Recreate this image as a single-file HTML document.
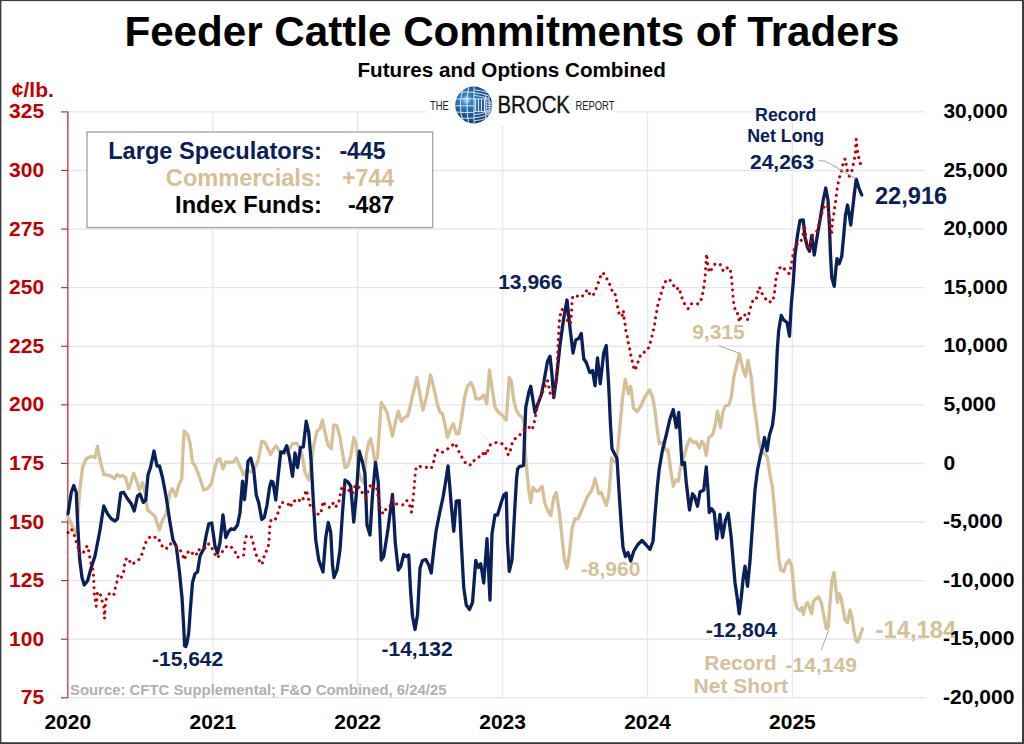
<!DOCTYPE html>
<html><head><meta charset="utf-8"><title>Feeder Cattle Commitments of Traders</title>
<style>
html,body{margin:0;padding:0;background:#fff;}
body{width:1024px;height:744px;overflow:hidden;font-family:"Liberation Sans",Arial,sans-serif;}
svg{display:block;}
text{font-family:"Liberation Sans",Arial,sans-serif;font-weight:bold;}
.lt{font-weight:normal;}
</style></head><body>
<svg width="1024" height="744" viewBox="0 0 1024 744">
<defs>
<radialGradient id="gl" cx="0.3" cy="0.36" r="0.78">
<stop offset="0" stop-color="#8cc6ea"/><stop offset="0.16" stop-color="#3a86bf"/><stop offset="0.5" stop-color="#1c5a98"/><stop offset="1" stop-color="#14366c"/>
</radialGradient>
<clipPath id="gc"><circle cx="473.7" cy="105" r="18.5"/></clipPath>
</defs>
<rect x="0" y="0" width="1024" height="744" fill="#fff"/>

<g stroke="#e7e7e7" stroke-width="1.4" fill="none">
<line x1="67.8" y1="111.9" x2="925" y2="111.9"/>
<line x1="67.8" y1="170.49" x2="925" y2="170.49"/>
<line x1="67.8" y1="229.08" x2="925" y2="229.08"/>
<line x1="67.8" y1="287.67" x2="925" y2="287.67"/>
<line x1="67.8" y1="346.26" x2="925" y2="346.26"/>
<line x1="67.8" y1="404.85" x2="925" y2="404.85"/>
<line x1="67.8" y1="463.44" x2="925" y2="463.44"/>
<line x1="67.8" y1="522.03" x2="925" y2="522.03"/>
<line x1="67.8" y1="580.62" x2="925" y2="580.62"/>
<line x1="67.8" y1="639.21" x2="925" y2="639.21"/>
<line x1="67.8" y1="697.8" x2="925" y2="697.8"/>
<line x1="212.9" y1="111.9" x2="212.9" y2="697.8"/>
<line x1="357.7" y1="111.9" x2="357.7" y2="697.8"/>
<line x1="502.6" y1="111.9" x2="502.6" y2="697.8"/>
<line x1="647.5" y1="111.9" x2="647.5" y2="697.8"/>
<line x1="792.4" y1="111.9" x2="792.4" y2="697.8"/>
</g>
<g stroke="#bb1c26" stroke-width="1.15" fill="none">
<line x1="67.9" y1="111.4" x2="67.8" y2="698"/>
<line x1="61" y1="111.9" x2="67.8" stroke-width="1.1" y2="111.9"/>
<line x1="61" y1="170.49" x2="67.8" stroke-width="1.1" y2="170.49"/>
<line x1="61" y1="229.08" x2="67.8" stroke-width="1.1" y2="229.08"/>
<line x1="61" y1="287.67" x2="67.8" stroke-width="1.1" y2="287.67"/>
<line x1="61" y1="346.26" x2="67.8" stroke-width="1.1" y2="346.26"/>
<line x1="61" y1="404.85" x2="67.8" stroke-width="1.1" y2="404.85"/>
<line x1="61" y1="463.44" x2="67.8" stroke-width="1.1" y2="463.44"/>
<line x1="61" y1="522.03" x2="67.8" stroke-width="1.1" y2="522.03"/>
<line x1="61" y1="580.62" x2="67.8" stroke-width="1.1" y2="580.62"/>
<line x1="61" y1="639.21" x2="67.8" stroke-width="1.1" y2="639.21"/>
<line x1="61" y1="697.8" x2="67.8" stroke-width="1.1" y2="697.8"/>
</g>
<g fill="#c00000" font-size="21" text-anchor="end">
<text x="44.1" y="118.4">325</text>
<text x="44.1" y="176.99">300</text>
<text x="44.1" y="235.58">275</text>
<text x="44.1" y="294.17">250</text>
<text x="44.1" y="352.76">225</text>
<text x="44.1" y="411.35">200</text>
<text x="44.1" y="469.94">175</text>
<text x="44.1" y="528.53">150</text>
<text x="44.1" y="587.12">125</text>
<text x="44.1" y="645.71">100</text>
<text x="44.1" y="704.3">75</text>
</g>
<text x="11.8" y="96.8" fill="#c00000" font-size="21">¢/lb.</text>
<g fill="#000" font-size="21" text-anchor="middle">
<text x="67.8" y="729.1">2020</text>
<text x="212.9" y="729.1">2021</text>
<text x="357.7" y="729.1">2022</text>
<text x="502.6" y="729.1">2023</text>
<text x="647.5" y="729.1">2024</text>
<text x="792.4" y="729.1">2025</text>
</g>
<text x="70" y="694.5" fill="#b0b0b0" font-size="14.9">Source: CFTC Supplemental; F&amp;O Combined, 6/24/25</text>
<rect x="427" y="84" width="189" height="42" fill="#fff"/>
<polyline points="67.5,516 70,521 73,528 75.3,533 76.8,531 78.2,512 79.5,492.5 82.5,467.5 86.25,458.75 91.25,456.25 95,457.5 97.5,446.25 100,460 103.75,474.5 107.5,475 111.25,476.25 114.5,478.75 117,474.5 120,476.25 122.5,475.5 125.5,477.5 128.75,488.75 131.25,481.25 133.75,473.25 136.25,480 139.5,490 142.5,482.5 145,492.5 147.5,510 151.25,513 155,516.25 159.25,530 162.5,520 166.25,513.75 170,492.5 172.5,488.75 175.5,496.25 178.75,485 181.75,478.75 183,450 184.25,431 187.5,434.5 190,442.5 192.5,462.5 195,465.5 198.75,475 203.75,490 207.5,488.75 211.25,483.75 215,467.5 217.5,460 220,458.75 223,468.75 225.75,462 230,462.5 233.25,462 236.25,458 240,466.25 243.75,475 247,470 251,472 255,467.5 258.25,460 261.75,441.25 265,442.5 268,448.75 270.5,454.5 273.75,448.75 276.25,445.75 280,452.5 285,453.75 288.75,450 292.5,443.75 296.25,443 299.5,447 302.5,456.25 305,472.5 308.75,480 310.5,470 313.75,445 317,431.25 320,428.75 322.5,420 325,432.5 328,445 331.25,448.75 333.75,425 337,425.75 340,437.5 342.5,452.5 345,467.5 347.5,466.25 350.75,456.25 353.75,437.5 356.25,443.75 358.75,472.5 361.25,480 363.75,482.5 366.25,455 368.75,442.5 370.75,438.75 373,450 375,462.5 377.5,457.5 380,420 381.25,402.5 383.75,406.25 387,412.5 390,425 392.5,436.25 395.5,421.25 398.25,411.25 401.25,421.25 404.25,417.5 407.5,416.25 410,407.5 412.5,396 417,377.5 420,395 423,410 426.25,398 430.5,375 433.75,387.5 437.5,405 440,412.5 442.5,413.75 445,425 447.5,437.5 450,430 453.25,423.75 456.25,433.75 458.75,433.75 461.25,420 464.5,397.5 467.5,386.25 470.75,382.5 473.75,388.75 475.75,398.75 480,398.75 483.75,395 486.75,403.75 489.5,370 492,387.5 495,407.5 498.75,412.5 502.5,415.5 506.25,420 509.25,377.5 511.25,381.25 513.75,400 516.25,410 519.5,415.5 522.5,417.5 524.25,425 525,450 527,472 528.75,490 530.75,502.5 533,487.5 536.25,491.25 538.75,490.5 542,486.25 545,503.75 548,511.25 550.75,515.5 553.75,497.5 556.25,492.5 559.5,512.5 562,537.5 564.5,560 567,568 569.5,552.5 572,528.75 575,518.75 578,518.75 581.25,511.25 584.5,503.75 587.5,496.25 591.25,491.25 593.5,485 595,478.75 597,486 598.75,493.75 601.25,492.5 603.75,498.75 606.25,505.5 608.75,495 610.5,475 611.5,458 613.5,461 616.25,462 618,447.5 620,425 622.5,398 625.25,379.5 628.5,393.75 630.75,386.25 633.5,408 637,411.75 641,406 645,396.5 649.5,390 652.75,397.5 655,411 657.5,431.25 659.25,443.75 662.5,442.5 665.5,450 668,450 670.75,470 673.25,486.25 675.75,480 678.25,481.25 680.5,467.5 683.75,457.5 686.75,446.25 690,438.75 693,442.5 696.25,442 699.25,448 701.75,441.25 703.75,443.75 706.25,455.5 708.75,437.5 712.5,435 715,426.25 717.5,411.25 720.5,427.5 722.5,413.75 725,406.25 728.75,405 731.25,397.5 733.75,377.5 736.75,365 739.5,353.75 742.5,367.5 745.5,376.25 748,360.5 751.25,377 753.75,402 756.25,420 758.75,440 761.25,451.25 765,453.75 767.5,457.5 770,475 772.5,487.5 775,515 777,537 778.75,558 780.75,570 783.75,571.5 786.25,563.75 789.25,560 791.75,566.25 793.25,582.5 795,600 797,608 800,610.5 801.75,607.5 803.25,614.5 805.5,606.25 807.5,602.5 809.5,607.5 811.75,613.75 813.25,602 815.75,598.75 818.75,597 821.25,602.5 823.75,615 826.25,628.75 828.25,627.5 830,602.5 832,580 834,572.5 835.75,587.5 837.5,602.5 839.25,593.75 841.25,598.75 843,608.75 845,620 847.5,622.5 850,610 852,617.5 853.75,630 855.75,640 857.5,642 860,636.25 862.5,628.75" fill="none" stroke="#d5c097" stroke-width="3.3" stroke-linejoin="round" stroke-linecap="round"/>
<polyline points="68,513.75 71.25,492.5 73.75,485.5 76.25,492.5 77.5,520 79.5,557.5 82,577.5 84.25,585 87.5,581 91.25,567.5 95,556 100,530 103.75,506 107.5,513.75 111.25,518.75 115,521 117.5,518.75 120.75,493 123.75,492.5 127.5,498.75 131.25,503.75 134.25,511 137.5,496 140,494 143.25,502.5 145.75,500 148,475 150.5,467.5 154,451 157,466 159.5,466 162.5,477.5 166.25,497.5 170,522.5 173,540 176.25,546.25 179.5,572.5 182,597.5 183.75,627.5 184.6,646 185.8,646.5 187,643 188.75,632.5 190.5,607.5 192.5,582.5 195,573.75 197.5,572 200,556 203.75,548.75 206.25,535 208.75,523.75 211.75,523 215,546 217.5,553 220,542.5 223,515 225.75,537.5 228.75,531.25 231.25,528.75 234.25,529.5 237.5,525 240,512.5 242.5,481.25 244.5,499.5 246.25,482.5 248,461.25 250.75,458 253.75,470 256.25,495 258.75,503 261.75,519.5 264.25,517.5 267,505 269.5,487.5 271.25,481.25 273,482 275.75,500 278.25,475 280.75,452 283.75,452.5 286.75,445.75 289.25,456.25 292.5,476.25 295,453 297.5,467.5 300.5,447.5 303.25,447 306.25,421.25 308.75,432.5 311.25,462.5 313.25,500 315.75,540 318.75,560 323,572 325.75,537.5 328.25,522.5 330.75,532.5 332.5,565 334,577.5 337,570 340,550 342.5,512.5 345,480 348,482 350.75,486.25 353.75,522 356.25,495 359.25,451.25 362.5,462.5 365,473.75 367,525 370,535 372.5,495 375.5,462.5 378.25,482.5 381.25,560 383.75,556.25 388,529 392.5,494.5 395.25,542.5 398.25,570 400.75,566.25 403.75,554.5 406.25,556.5 408.75,555 410.5,590 412.5,616.25 415,629.5 417.5,615 420,568 422.5,560.5 425.75,559.5 428.75,565 431.25,573 433.75,550 436.25,530 440,511.25 443,497.5 445.5,482.5 448,466 449.75,486 451.25,505 453.75,531.25 456.25,501.25 459.25,500.75 461.25,542.5 463.75,587.5 466.25,605 469.5,609.5 472.5,602.5 475.75,560.5 478.25,567.5 480.75,563.75 483.75,583 487,538.75 490,600 492,533.75 495,515 497.5,515 501.25,502.5 503.75,495 506.25,493 507.5,542.5 509.25,571.25 512,560 515,505 516.6,478 517.6,469 519.5,466.6 523.6,465.4 524.5,438 525.75,407.5 528.75,392.5 530.75,386.25 533.75,405 535,412.5 537.5,405 541.25,395 543.75,382.5 547.5,361.25 550,356.25 552,375 553.75,397.5 556.25,380 560,345 563.75,318 567,300 570,328 573,353 575.75,340 578.75,338.5 581.25,333.5 583.75,358.75 586.25,362.5 589.75,372.5 592.5,370.5 595,385.75 597.5,358 600.25,383.75 603.75,352.5 606.25,345.5 608.75,387 610.5,425 612,448.75 614.5,453.75 617,458.5 618.75,487 621.25,525 623,547.5 625.5,556.5 628,552.5 630.75,561 633.75,551.25 637.5,545 642,540.5 646.25,545 650,549.5 653,541.25 655,515 657.5,485 659.25,468.75 662.5,450 666.25,435 670,418.75 673.25,409.5 676.25,427.5 678.75,412.5 680.5,440 682,464.5 684.5,462.5 686.25,482.5 689.5,510 692.5,493.75 694.5,496.25 697.5,506.25 700,492 703.75,490 706.25,467 708,490 709.25,512.5 711.75,508.75 714.25,512.5 716.75,538.75 720,514.5 722.5,537.5 725.5,520 728.25,513.25 731.25,538 733.25,562 735,582.5 737.5,600 739.25,613.75 741.25,597.5 743.25,577.5 745,566.25 747.5,586.25 750,561 752.5,525 755,490 757.5,470 760,457.5 762.5,447.5 764.5,437.5 767,450.75 769.5,435 772.5,425 774.25,410 775.75,385 777.25,350 778.75,330 781.25,315.5 783.75,320 787,322.5 789.5,336.25 791.25,305 793.25,282.5 795,255 797.5,235 800,220.5 803.25,220 805,237.5 807.5,247.5 809.5,251.25 811.75,235.5 814.25,255 817,237.5 820,220 823.25,200 825.75,188 828,200 829.5,227.5 830.5,255 831.75,277.5 834.25,286.25 835.75,270 837,258.75 839.25,263.75 841.75,256.25 843.75,235 845.5,215 847.5,205 849.25,215 850.75,225 852.5,210 854.5,192.5 856.25,179.25 858.75,187.5 861.75,195" fill="none" stroke="#0a2059" stroke-width="3.3" stroke-linejoin="round" stroke-linecap="round"/>
<polyline points="68,532.5 71.25,528.75 73.75,533.75 76.25,541.25 78,547.5 80,553.75 82.5,555 85,548.75 87.5,545.75 88.75,551.25 90,558.75 91.25,565 93,570 93.75,580 94.25,593.75 96.25,606.25 97.5,592.5 100,592.5 101.25,598.75 103.75,605.5 104.5,618.75 105.75,601.25 107,596.25 110,593 113.75,595 115.5,587 117.5,580 118,574.5 121.25,577.5 123.75,571.25 124.5,565 126.25,558.75 128.75,558.25 130.75,564.25 133.75,563.25 138,560.75 141.25,556.25 143.25,550 145,543.75 147.5,540 150.5,536.25 153.75,537.5 157.5,537 160.5,542.5 163,548 166.25,548.75 170,543.75 173.75,545 180,549.5 182.5,555 184.5,560 186.25,553.75 190,550.5 193.75,555 196.25,555.5 197.5,549.5 201.25,550 205,548 207.25,543.75 210,544.5 213.75,551.5 217,558 220,554.5 223.75,550 227.5,545.5 231.25,547 235,551.5 237.5,557.5 240.5,555 243.75,555 244.25,549 245,542 246.25,536.25 251.25,536.25 253,542.5 254.5,548.75 256.25,555 258.75,560 262,564.5 263.75,557.5 265.5,552 267.75,549.5 268.75,543.5 269.25,536.25 270,523.75 271.25,519.5 275,520 277.5,515 278.75,509.5 281.25,502.5 285,502.5 288,503.75 290.5,507.5 292.5,501.25 295.5,500.75 297.5,498.75 301.25,502 303.75,497.5 306.25,490 308,496.25 309.25,502.5 311.25,508.75 314.5,510 318.75,515 321.25,511.25 323.25,501.25 325,505 327.5,507 330.75,507.5 333.75,502 336.25,506.25 338.75,502.5 340,496.25 341.25,490 342.5,485 345,487.5 348,488.75 350,492.5 352.5,493.75 355,486.25 358,485 360.5,491.25 363.75,493.75 366.25,497.5 368.75,488.75 371.25,483.75 373.75,487.5 376.25,486.25 377.5,492.5 378.75,500 380,507.5 381.25,512 384.25,513.75 386.25,508 390,506.25 392.5,500 395,503.75 400,504.5 403.75,505 407,500.5 410,506.25 411.5,512.25 412.5,505 413.25,497.5 414,490 414.6,482.5 415.2,475 416,469 417.5,466 422.5,467 427.5,467.5 431.25,468.75 433.75,461.25 435,455 437,450 441.25,453 446.25,450 451.25,446.25 455,443 458,449.5 460.5,455 463.75,460 466.25,464.5 471.25,465 474.5,460 478.75,457 482.5,456.25 483.75,450.75 486.75,455 488,450 490.5,444.5 496.25,442.5 502,443.75 506.25,448.75 508.25,455 510,452 511.25,446.25 513,440.75 517,437 521.25,433.75 525,428.75 528.75,427 532,430 533.75,425 535,418.75 536.25,412.5 537.5,405 539.5,398.75 542.5,392.5 545.5,385 547.5,380.5 549.25,388.75 550.75,395.75 553.75,396.25 555.5,386.25 557,372.5 557.5,360 558,347.5 558.6,335 559.2,322.5 560.3,315 561.75,309.25 564.25,310.5 565.75,316.25 568,322.5 570.5,323.75 571.25,316.25 571.75,309.5 572,302.5 572.7,297 575,295 577.5,296.25 581.25,297.5 584.5,293.75 587.5,289.5 590,295 593,295.75 595.5,290 598,283.75 600,277.5 602.5,272.5 605,275 607.5,280 610,285 612,290.5 614.5,291.25 615.75,297.5 617,303.75 618.25,310 619.5,315.5 622,316.25 623.25,310.5 624,317.5 625,323.75 625.75,330 627,335 628,341.25 629.5,347.5 630.5,353.75 632,360 633.25,366.25 635,370.5 637,365.5 638.75,359.5 641.25,353.25 646.25,351.5 649.5,346.25 650.75,340 652.5,334.5 653.75,328.5 655,322.5 655.75,316.25 657,310 658,303.75 660,297.5 661.75,291.25 663.75,285.5 666.25,280 669.5,279.5 672.5,283.75 676.25,289.5 678.75,287.5 680.75,293.75 682.5,299.5 685,305 688.25,308.75 691.25,303.75 695.5,304.5 700,303.25 702,297 703.25,290.75 704.25,284.5 705,278.25 705.5,272 705.75,266.25 706.25,260 706.5,253.75 708,266.25 709.25,272.5 712,268.75 714.5,264.5 718.75,263.25 721.25,265.75 723.25,271.25 725,270.5 728,267 730.5,271.25 731.5,277.5 732,283.75 732.5,290 733,296.25 733.75,303.25 735,308.75 736.75,309.5 738,316.25 739.5,322 741.25,315.75 745,315 747.5,320 749.5,311.25 751.25,305 753.5,299 756.25,299 757.75,292.5 759.4,287 761.25,292.5 764,296.25 767.5,302 772.5,301.75 774.25,295 775,288.75 775.5,282.5 776.5,276.25 778.1,270 781.25,266.25 785,269.5 789.25,273.75 790.75,267.5 792,261.25 793,255 794.5,248.75 797,244.25 800,243.25 802.5,237.5 803.75,231.25 804.5,225 806.25,242.5 809.5,250 810.75,242.5 812.5,235.5 815,233.75 817.5,230 819.25,223.75 820.75,217.5 822.5,211.25 824.5,205.5 827.5,205 828.25,211.25 829.25,217.5 830,223.75 830.75,230 831.75,235 832.5,221.25 833.75,215 834.5,208.75 835.5,202.5 836.25,196.25 837,190 838,183.75 839.25,178 841.25,172.5 842.5,166.25 843.75,160 845.5,158.75 846.25,165 847.5,171.25 849.25,176.25 851.75,171.25 853.25,165 854.5,158.75 855.5,152 855.75,145.5 856.25,139.25 857.5,151.25 858.75,157.5 860.5,163.75" fill="none" stroke="#bd0008" stroke-width="3.1" stroke-linejoin="round" stroke-linecap="round" stroke-dasharray="0.01 6.25"/>
<g stroke="#a6a6a6" stroke-width="1" fill="none">
<polyline points="819,160.6 825,161 856,178.6"/>
<line x1="718.75" y1="345.75" x2="738.75" y2="353"/>
<line x1="828.75" y1="630" x2="821.25" y2="650"/>
</g>
<rect x="87" y="132" width="345.7" height="95.6" fill="#fff" stroke="#a8a8a8" stroke-width="1.4"/>
<text x="321.9" y="158.8" fill="#0a2059" font-size="23.6" text-anchor="end">Large Speculators:</text>
<text x="339.4" y="158.8" fill="#0a2059" font-size="23.1">-445</text>
<text x="321.9" y="186" fill="#d5c097" font-size="23.6" text-anchor="end">Commercials:</text>
<text x="342" y="186" fill="#d5c097" font-size="23.1">+744</text>
<text x="321.9" y="213" fill="#000" font-size="23.6" text-anchor="end">Index Funds:</text>
<text x="347.9" y="213" fill="#000" font-size="23.1">-487</text>
<text x="512" y="46.2" fill="#000" font-size="42.15" text-anchor="middle">Feeder Cattle Commitments of Traders</text>
<text x="511.7" y="76.6" fill="#000" font-size="19.5" text-anchor="middle" textLength="308.4" lengthAdjust="spacingAndGlyphs">Futures and Options Combined</text>
<text class="lt" x="429.9" y="109.7" fill="#222" font-size="12" textLength="18.9" lengthAdjust="spacingAndGlyphs">THE</text>
<text class="lt" x="497.4" y="112.9" fill="#111" stroke="#111" stroke-width="0.35" font-size="23.2" textLength="72.6" lengthAdjust="spacingAndGlyphs">BROCK</text>
<text class="lt" x="575.4" y="109.7" fill="#222" font-size="12" textLength="39.1" lengthAdjust="spacingAndGlyphs">REPORT</text>
<circle cx="473.7" cy="105" r="18.5" fill="url(#gl)"/>
<g clip-path="url(#gc)" stroke="#dcedfa" stroke-width="1" fill="none" opacity="0.95">
<path d="M454.7,93 Q464.7,91.25 474,92.25"/>
<path d="M454.7,99.24 Q464.7,98.4 474,98.88"/>
<path d="M454.7,105.76 Q464.7,105.9 474,105.82"/>
<path d="M454.7,111.92 Q464.7,112.9 474,112.34"/>
<path d="M454.7,117.28 Q464.7,119.1 474,118.06"/>
<path d="M463.95,86 Q456.7,105 463.95,124"/>
<path d="M468.775,86 Q465.15,105 468.775,124"/>
<path d="M474,86 Q474,105 474,124"/>
<path d="M475.5,99 L475.5,111.4" stroke-width="1.2"/>
<path d="M478.5,99 L478.5,111.4" stroke-width="1.2"/>
<path d="M481.5,99 L481.5,111.4" stroke-width="1.2"/>
<path d="M484.5,99 L484.5,111.4" stroke-width="1.2"/>
<path d="M474,98.8 L485.7,98.8"/>
<path d="M474,111.6 L485.7,111.6"/>
<path d="M474,89.8 Q481.7,90.4 488.7,93"/>
<path d="M474,92.6 Q481.7,93.2 488.7,95.8"/>
<path d="M474,95.4 Q481.7,96 488.7,98.6"/>
<path d="M474,114.8 Q481.7,114.2 488.7,111.4"/>
<path d="M474,117.8 Q481.7,117.2 488.7,114.4"/>
<path d="M474,120.8 Q481.7,120.2 488.7,117.4"/>
<path d="M485.7,99 L492.7,103.125"/>
<path d="M485.7,102 L492.7,104.475"/>
<path d="M485.7,105 L492.7,105.825"/>
<path d="M485.7,108 L492.7,107.175"/>
<path d="M485.7,111 L492.7,108.525"/>
<path d="M485.7,114 L492.7,109.875"/>
<path d="M485.7,95 Q486.7,107 485.7,118"/>
<path d="M488.9,96 Q489.9,107 488.9,116"/>
</g>
<circle cx="466.5" cy="100" r="4" fill="#e8f5ff" opacity="0.25"/>
<g fill="#0a2059">
<text x="875" y="203.8" font-size="23.6">22,916</text>
<text x="785.7" y="121" font-size="17.8" text-anchor="middle">Record</text>
<text x="785.7" y="141.6" font-size="17.8" text-anchor="middle">Net Long</text>
<text x="750" y="168.7" font-size="21">24,263</text>
<text x="498.2" y="288.7" font-size="21">13,966</text>
<text x="152" y="666.2" font-size="21">-15,642</text>
<text x="381.5" y="655.8" font-size="21">-14,132</text>
<text x="705.8" y="637" font-size="21">-12,804</text>
</g>
<g fill="#d5c097">
<text x="692.2" y="338.7" font-size="21">9,315</text>
<text x="580.8" y="575.5" font-size="21">-8,960</text>
<text x="875.6" y="638.3" font-size="23.8">-14,184</text>
<text x="785.6" y="672.4" font-size="21">-14,149</text>
<text x="740.4" y="669.9" font-size="21" text-anchor="middle">Record</text>
<text x="740.8" y="693.1" font-size="21" text-anchor="middle">Net Short</text>
</g>
<g fill="#000" font-size="21">
<text x="943.4" y="118.1">30,000</text>
<text x="943.4" y="176.69">25,000</text>
<text x="943.4" y="235.28">20,000</text>
<text x="943.4" y="293.87">15,000</text>
<text x="943.4" y="352.46">10,000</text>
<text x="943.4" y="411.05">5,000</text>
<text x="943.4" y="469.64">0</text>
<text x="943.1" y="528.23">-5,000</text>
<text x="943.1" y="586.82">-10,000</text>
<text x="943.1" y="645.41">-15,000</text>
<text x="943.1" y="704">-20,000</text>
</g>
<g fill="#3c3c3c"><rect x="0" y="0" width="1024" height="1.1"/><rect x="0" y="0" width="1.4" height="744"/><rect x="1022" y="0" width="2" height="744"/><rect x="0" y="742.2" width="1024" height="1.8"/></g>
</svg></body></html>
